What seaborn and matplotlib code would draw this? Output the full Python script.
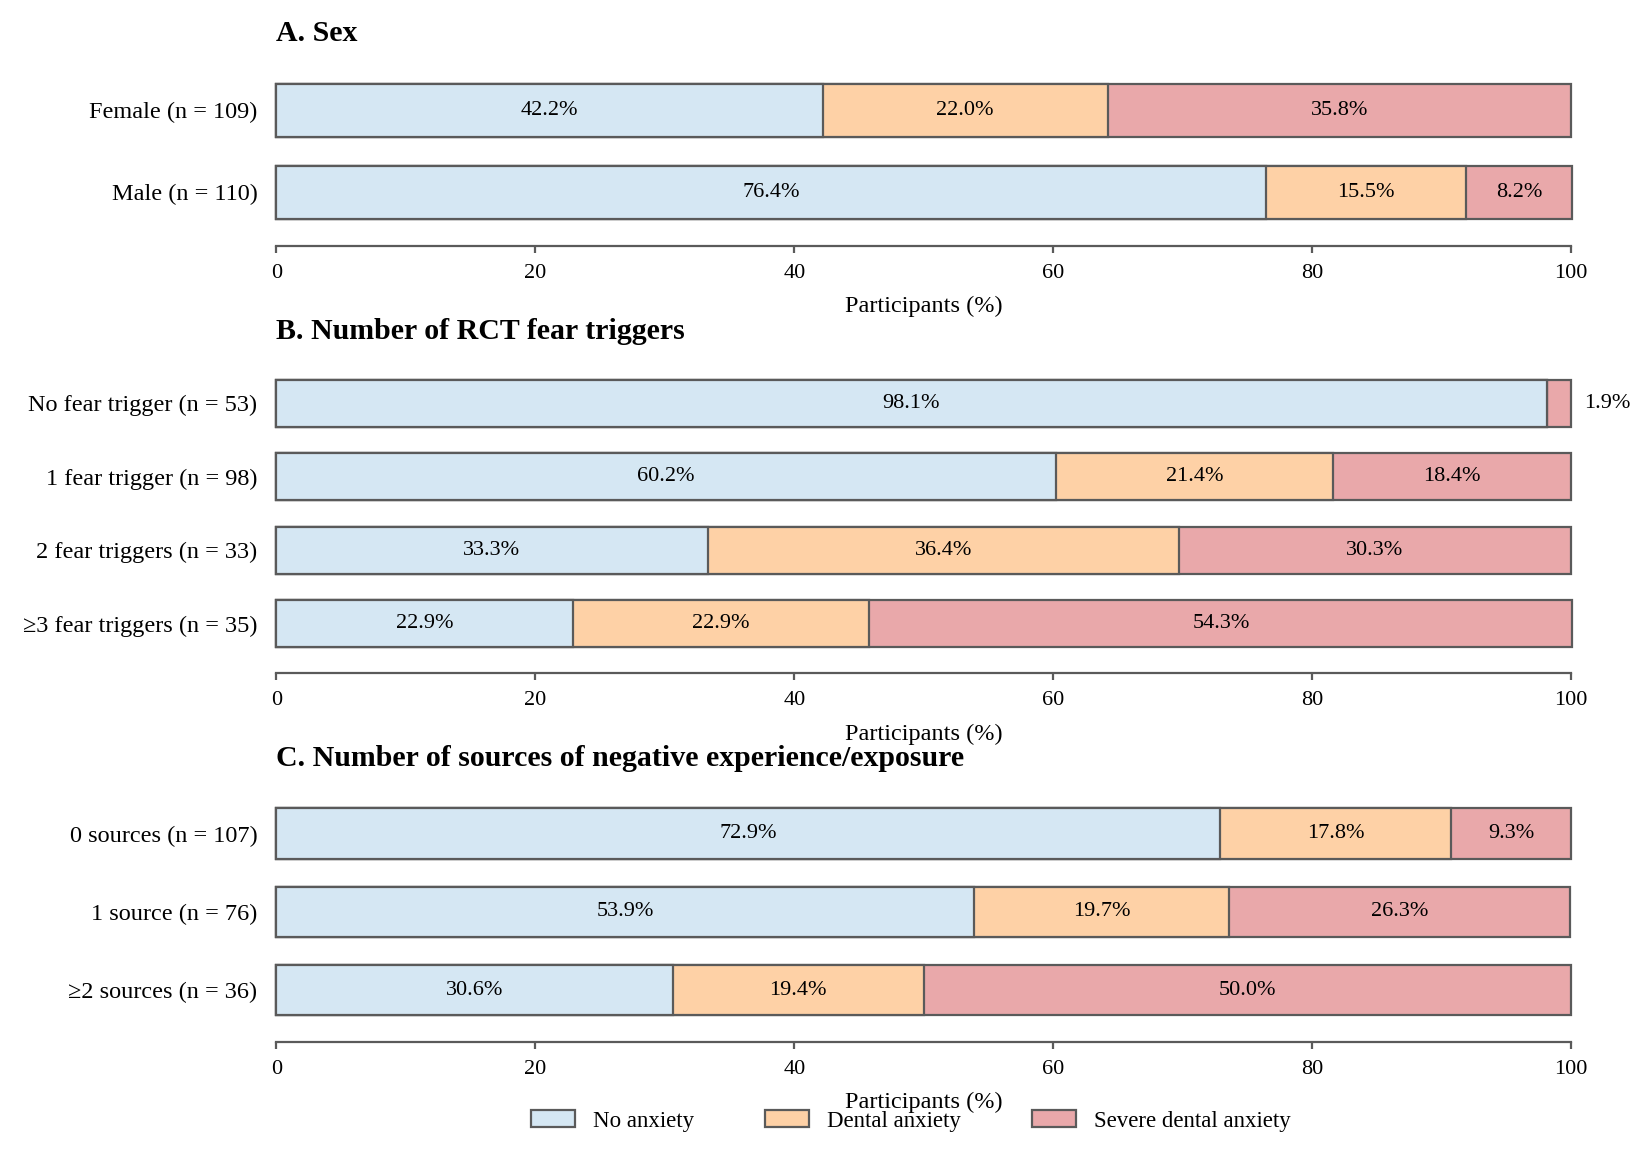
import matplotlib
matplotlib.use("Agg")
import matplotlib.pyplot as plt
import seaborn as sns
import pandas as pd
import numpy as np
from matplotlib.patches import Patch

# Data (percentages)
levels = ['No anxiety', 'Dental anxiety', 'Severe dental anxiety']

sex_labels = ['Female (n = 109)', 'Male (n = 110)']
sex_no = [42.2, 76.4]
sex_dental = [22.0, 15.5]
sex_severe = [35.8, 8.2]

fear_labels = ['No fear trigger (n = 53)', '1 fear trigger (n = 98)',
               '2 fear triggers (n = 33)', '\u22653 fear triggers (n = 35)']
fear_no = [98.1, 60.2, 33.3, 22.9]
fear_dental = [0.0, 21.4, 36.4, 22.9]
fear_severe = [1.9, 18.4, 30.3, 54.3]

src_labels = ['0 sources (n = 107)', '1 source (n = 76)', '\u22652 sources (n = 36)']
src_no = [72.9, 53.9, 30.6]
src_dental = [17.8, 19.7, 19.4]
src_severe = [9.3, 26.3, 50.0]

panel_titles = ['A. Sex', 'B. Number of RCT fear triggers',
                'C. Number of sources of negative experience/exposure']

colors = ['#D5E7F3', '#FED1A6', '#E9A8AA']
edge = '#5a5a5a'

sns.set_theme(style='white')
plt.rcParams['font.family'] = ['Liberation Serif', 'DejaVu Serif']
plt.rcParams['text.color'] = 'black'
plt.rcParams['axes.labelcolor'] = 'black'
plt.rcParams['xtick.color'] = 'black'
plt.rcParams['ytick.color'] = 'black'

fig = plt.figure(figsize=(16.48, 11.53), dpi=100)

# axes rectangles in figure fraction
rects = [
    [0.1677, 0.7977, 0.7857, 0.14215],
    [0.1677, 0.42706, 0.7857, 0.25525],
    [0.1677, 0.10729, 0.7857, 0.20382],
]
title_y = [0.9708, 0.7128, 0.3418]

panels = [
    (sex_labels, sex_no, sex_dental, sex_severe),
    (fear_labels, fear_no, fear_dental, fear_severe),
    (src_labels, src_no, src_dental, src_severe),
]

for i, (labels, no, dental, severe) in enumerate(panels):
    ax = fig.add_axes(rects[i])
    df = pd.DataFrame({'group': labels, 'no': no, 'dental': dental, 'severe': severe})
    df['c1'] = df['no']
    df['c2'] = df['no'] + df['dental']
    df['c3'] = df['c2'] + df['severe']

    # draw back to front so the stacked segments show
    for col, colr in zip(['c3', 'c2', 'c1'], colors[::-1]):
        sns.barplot(data=df, x=col, y='group', orient='h', color=colr,
                    saturation=1, width=0.64, edgecolor=edge, linewidth=1.6,
                    ax=ax, order=labels)
    for p in ax.patches:
        p.set_clip_on(False)

    # value labels
    for j, row in df.iterrows():
        starts = [0, row['c1'], row['c2']]
        vals = [row['no'], row['dental'], row['severe']]
        for s, v in zip(starts, vals):
            if v <= 0:
                continue
            if v < 5:
                ax.text(101, j, f'{v:.1f}%', ha='left', va='center', fontsize=16)
            else:
                ax.text(s + v / 2, j, f'{v:.1f}%', ha='center', va='center', fontsize=16)

    ax.set_xlim(0, 100)
    ax.set_xticks(np.arange(0, 101, 20))
    ax.set_ylabel('')
    ax.set_xlabel('Participants (%)', fontsize=17.5, labelpad=9.5)
    for s in ['top', 'right', 'left']:
        ax.spines[s].set_visible(False)
    ax.spines['bottom'].set_position(('outward', 9.2))
    ax.spines['bottom'].set_color(edge)
    ax.spines['bottom'].set_linewidth(1.6)
    ax.tick_params(axis='x', bottom=True, length=5.3, width=1.6, color=edge,
                   labelsize=16, pad=7.5)
    ax.tick_params(axis='y', left=False, length=0, labelsize=17.5, pad=13.5)
    ax.grid(False)

    fig.text(rects[i][0], title_y[i], panel_titles[i], fontsize=21.5,
             fontweight='bold', ha='left', va='center')

handles = [Patch(facecolor=c, edgecolor=edge, linewidth=1.6) for c in colors]
fig.legend(handles, levels, loc='center', bbox_to_anchor=(911 / 1648, 1 - 1121 / 1153),
           ncol=3, frameon=False, fontsize=16.5, handlelength=1.9, handleheight=0.75,
           handletextpad=0.8, columnspacing=3.1)

fig.savefig('out.png', dpi=100)
